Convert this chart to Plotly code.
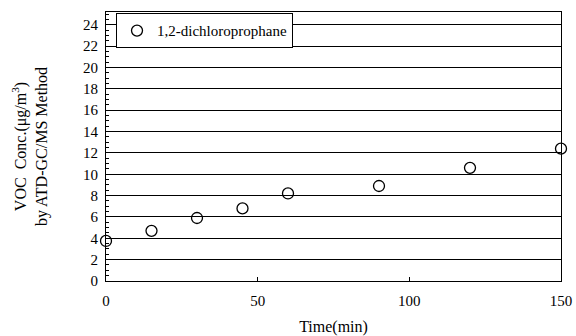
import plotly.graph_objects as go

time_min = [0, 15, 30, 45, 60, 90, 120, 150]
conc = [3.75, 4.7, 5.9, 6.8, 8.2, 8.9, 10.6, 12.4]
series_name = "1,2-dichloroprophane"
y_ticks = list(range(0, 25, 2))
x_ticks = [0, 50, 100, 150]

font_family = "Liberation Serif, Times New Roman, serif"

fig = go.Figure()
fig.add_trace(go.Scatter(
    x=time_min, y=conc, mode="markers", name=series_name,
    marker=dict(symbol="circle-open", size=11, color="black", line=dict(width=1.3)),
    cliponaxis=False,
))

fig.update_layout(
    width=576, height=336,
    margin=dict(l=106, r=15, t=12, b=55, autoexpand=False),
    paper_bgcolor="white", plot_bgcolor="white",
    font=dict(family=font_family, color="black", size=15),
    showlegend=True,
    legend=dict(x=0.022, y=0.995, xanchor="left", yanchor="top",
                bgcolor="white", bordercolor="black", borderwidth=1,
                font=dict(size=15, family=font_family),
                itemwidth=30, tracegroupgap=0),
    xaxis=dict(range=[0, 150], tickvals=x_ticks, showgrid=False, zeroline=False,
               showline=True, linecolor="black", linewidth=1, mirror=True,
               ticks="inside", ticklen=4, tickcolor="black", automargin=False,
               ticklabelstandoff=6,
               tickfont=dict(size=15, family=font_family),
               title=dict(text="Time(min)", font=dict(size=16, family=font_family), standoff=12)),
    yaxis=dict(range=[0, 25.2], tickvals=y_ticks, showgrid=True, gridcolor="black", gridwidth=1,
               zeroline=False, showline=True, linecolor="black", linewidth=1, mirror=True,
               ticks="", automargin=False, ticklabelstandoff=4,
               tickfont=dict(size=15, family=font_family),
               minor=dict(dtick=0.5, ticks="inside", ticklen=3, tickcolor="black", showgrid=False),
               title=dict(text="VOC  Conc.(μg/m<sup>3</sup>)<br>by ATD-GC/MS Method",
                          font=dict(size=16, family=font_family), standoff=31)),
)

fig.write_html("out.html")
